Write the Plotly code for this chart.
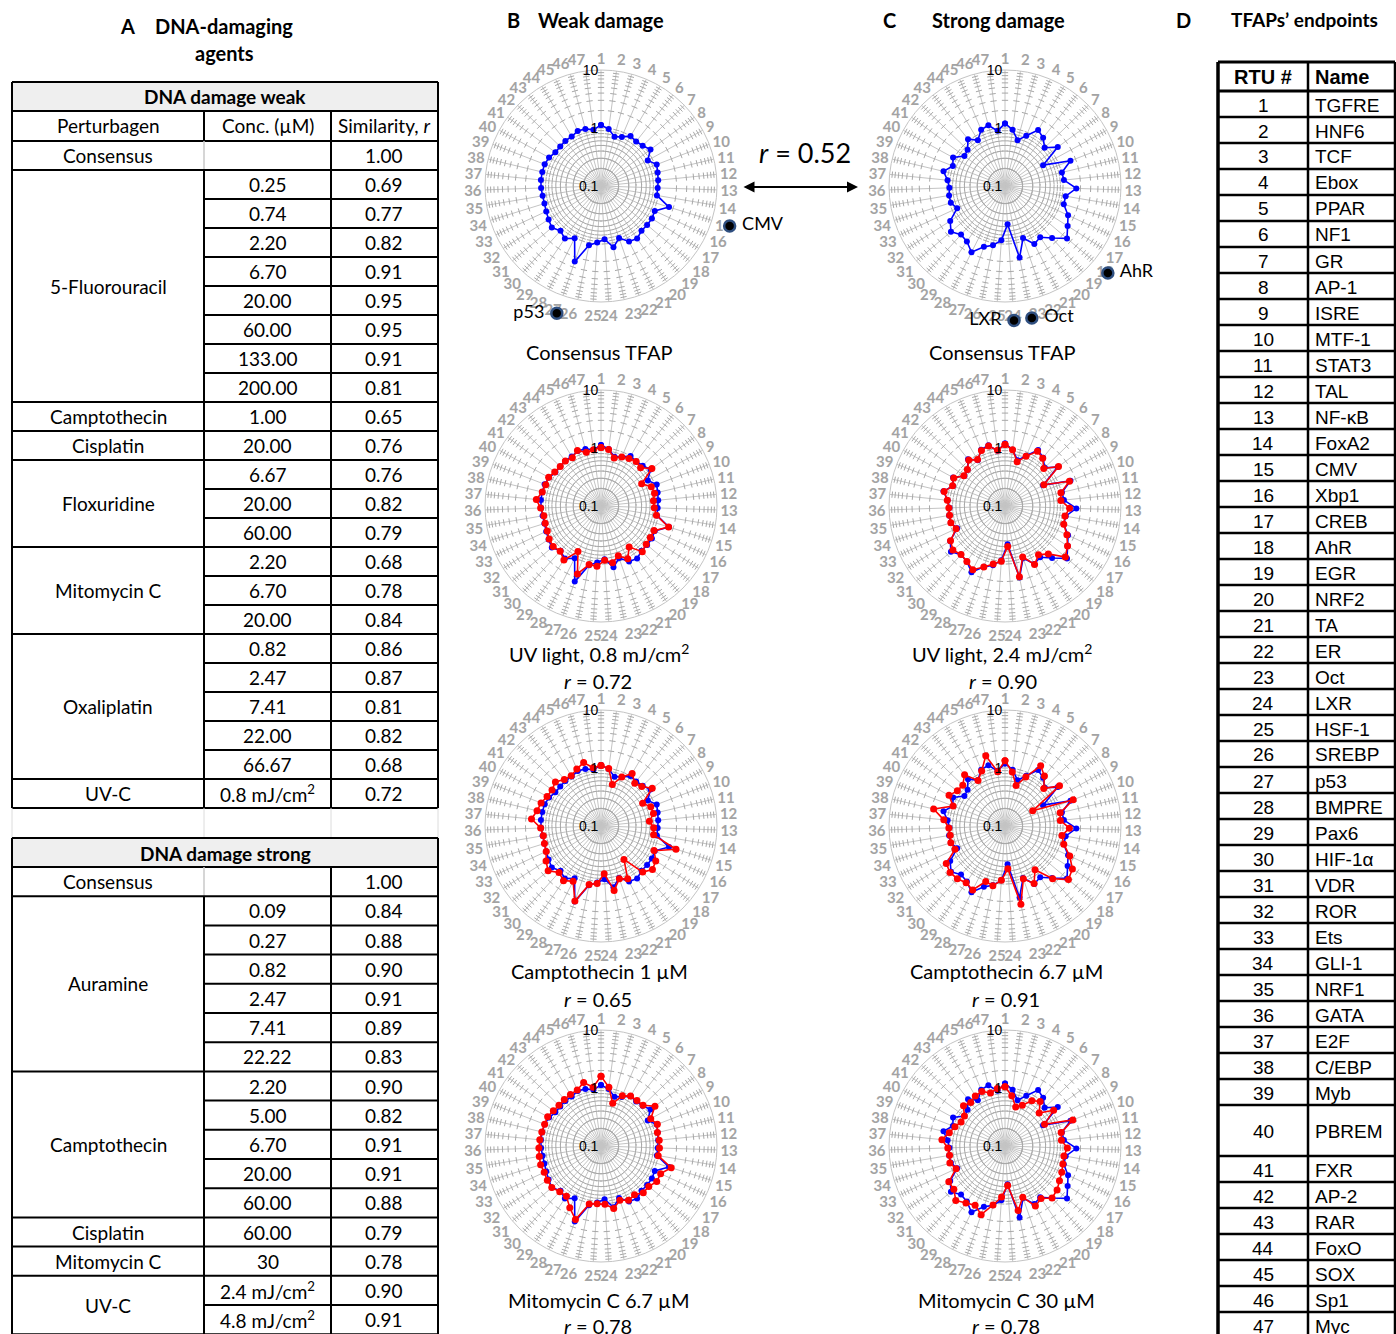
import plotly.graph_objects as go

W, H = 1396, 1334

# ---------------- data ----------------
categories = [str(i) for i in range(1, 48)]

weak_consensus = [1.13, 0.98, 0.76, 0.83, 1.00, 0.95, 1.00, 1.15, 0.83, 1.07, 1.01, 0.98, 0.95, 0.95, 1.69,
                  1.05, 1.10, 1.10, 1.10, 1.26, 1.18, 0.89, 1.20, 0.83, 0.95, 1.10, 2.40, 1.02, 1.26, 1.10,
                  1.29, 1.18, 1.10, 1.05, 1.05, 1.08, 1.10, 1.10, 1.10, 1.05, 0.95, 0.95, 0.98, 0.98, 1.07,
                  1.05, 0.95]
strong_consensus = [1.20, 0.95, 0.66, 0.87, 1.32, 1.15, 0.89, 1.35, 0.56, 1.62, 1.02, 1.05, 1.70, 1.15, 1.15,
                    1.58, 1.91, 2.51, 1.62, 1.18, 1.32, 0.89, 1.82, 0.46, 0.87, 1.10, 1.29, 1.91, 1.45, 1.35,
                    1.66, 1.32, 0.81, 0.95, 0.95, 0.91, 0.99, 1.23, 0.92, 1.05, 0.74, 0.79, 1.07, 0.83, 1.13,
                    1.22, 0.91]
uv_08 = [1.02, 0.96, 0.72, 0.83, 0.89, 0.95, 0.89, 1.23, 0.63, 0.85, 0.89, 0.81, 0.83, 0.93, 1.66,
         1.02, 1.02, 1.05, 1.15, 0.72, 1.05, 0.81, 1.00, 0.87, 1.10, 1.07, 1.74, 0.76, 1.35, 1.12,
         1.20, 1.15, 1.05, 1.02, 1.00, 1.10, 1.32, 1.10, 1.05, 1.07, 0.98, 0.95, 0.98, 0.93, 1.10,
         0.91, 0.95]
campto_1 = [1.10, 1.00, 0.55, 0.83, 1.13, 0.87, 0.95, 1.25, 0.66, 0.83, 0.85, 0.69, 0.81, 0.83, 2.26,
            1.02, 1.32, 1.45, 1.18, 0.50, 1.05, 0.92, 1.36, 0.67, 0.99, 1.07, 2.35, 1.17, 1.39, 1.20,
            1.56, 1.33, 1.10, 1.05, 1.02, 1.10, 1.60, 1.36, 1.28, 1.15, 1.12, 1.24, 1.05, 1.02, 1.17,
            1.36, 1.03]
mito_67 = [1.60, 1.05, 0.58, 0.87, 1.00, 1.00, 1.02, 1.43, 0.95, 1.10, 1.00, 1.02, 1.02, 1.00, 1.85,
           1.36, 1.38, 1.20, 1.22, 1.05, 1.12, 0.98, 1.26, 1.02, 1.00, 1.05, 2.20, 1.56, 1.13, 1.15,
           1.29, 1.25, 1.20, 1.23, 1.20, 1.18, 1.15, 1.12, 1.10, 1.12, 1.05, 1.02, 1.05, 1.08, 1.12,
           1.36, 1.05]
uv_24 = [1.15, 0.95, 0.62, 0.85, 1.25, 1.12, 0.85, 1.40, 0.58, 1.55, 0.98, 0.93, 1.30, 1.12, 1.15,
         1.50, 1.90, 2.30, 1.30, 1.05, 1.35, 0.85, 1.75, 0.50, 0.90, 1.05, 1.30, 1.70, 1.45, 1.35,
         1.50, 1.30, 0.85, 0.95, 0.93, 0.93, 1.00, 1.20, 0.93, 1.02, 0.76, 0.80, 1.02, 0.85, 1.10,
         1.18, 0.93]
campto_67 = [1.34, 0.87, 0.53, 0.83, 1.61, 1.25, 0.85, 1.47, 0.35, 1.82, 0.95, 0.91, 1.29, 0.99, 1.15,
             1.70, 2.39, 2.70, 1.68, 0.82, 1.29, 0.92, 2.38, 0.55, 0.87, 1.12, 1.03, 1.72, 1.53, 1.68,
             1.74, 1.59, 0.89, 0.95, 0.91, 0.93, 1.15, 1.84, 0.91, 1.26, 1.05, 1.03, 1.33, 0.82, 1.07,
             1.80, 0.88]
mito_30 = [1.05, 0.75, 0.50, 0.58, 0.81, 0.95, 0.66, 1.10, 0.60, 1.79, 0.99, 0.95, 1.19, 1.07, 1.11,
           1.20, 1.30, 1.50, 1.62, 1.25, 1.45, 0.86, 1.37, 0.48, 0.76, 1.09, 1.79, 1.39, 1.55, 1.84,
           1.43, 1.41, 0.85, 0.99, 0.93, 0.97, 1.24, 0.97, 0.84, 0.73, 0.74, 0.99, 0.90, 1.01, 1.05,
           0.89, 1.00]

weak_highlight_cats = ["15", "27"]
weak_highlight_names = ["CMV", "p53"]
strong_highlight_cats = ["18", "24", "23"]
strong_highlight_names = ["AhR", "LXR", "Oct"]

radial_ticks = [0.1, 1, 10]
radial_ticktext = ["0.1", "1", "10"]
minor_ticks = [0.2, 0.3, 0.4, 0.5, 0.6, 0.7, 0.8, 0.9, 1, 2, 3, 4, 5, 6, 7, 8, 9]

weak_title = "DNA damage weak"
weak_groups = [
    ("Consensus", [""], ["1.00"]),
    ("5-Fluorouracil", ["0.25", "0.74", "2.20", "6.70", "20.00", "60.00", "133.00", "200.00"],
     ["0.69", "0.77", "0.82", "0.91", "0.95", "0.95", "0.91", "0.81"]),
    ("Camptothecin", ["1.00"], ["0.65"]),
    ("Cisplatin", ["20.00"], ["0.76"]),
    ("Floxuridine", ["6.67", "20.00", "60.00"], ["0.76", "0.82", "0.79"]),
    ("Mitomycin C", ["2.20", "6.70", "20.00"], ["0.68", "0.78", "0.84"]),
    ("Oxaliplatin", ["0.82", "2.47", "7.41", "22.00", "66.67"], ["0.86", "0.87", "0.81", "0.82", "0.68"]),
    ("UV-C", ["0.8 mJ/cm<sup>2</sup>"], ["0.72"]),
]
strong_title = "DNA damage strong"
strong_groups = [
    ("Consensus", [""], ["1.00"]),
    ("Auramine", ["0.09", "0.27", "0.82", "2.47", "7.41", "22.22"], ["0.84", "0.88", "0.90", "0.91", "0.89", "0.83"]),
    ("Camptothecin", ["2.20", "5.00", "6.70", "20.00", "60.00"], ["0.90", "0.82", "0.91", "0.91", "0.88"]),
    ("Cisplatin", ["60.00"], ["0.79"]),
    ("Mitomycin C", ["30"], ["0.78"]),
    ("UV-C", ["2.4 mJ/cm<sup>2</sup>", "4.8 mJ/cm<sup>2</sup>"], ["0.90", "0.91"]),
]
table_header = ["Perturbagen", "Conc. (µM)", "Similarity, <i>r</i>"]

tfap_names = ["TGFRE", "HNF6", "TCF", "Ebox", "PPAR", "NF1", "GR", "AP-1", "ISRE", "MTF-1", "STAT3", "TAL",
              "NF-κB", "FoxA2", "CMV", "Xbp1", "CREB", "AhR", "EGR", "NRF2", "TA", "ER", "Oct", "LXR",
              "HSF-1", "SREBP", "p53", "BMPRE", "Pax6", "HIF-1α", "VDR", "ROR", "Ets", "GLI-1", "NRF1",
              "GATA", "E2F", "C/EBP", "Myb", "PBREM", "FXR", "AP-2", "RAR", "FoxO", "SOX", "Sp1", "Myc"]

# ---------------- helpers ----------------
CAL = "Lato"
ARI = "Liberation Sans"
BLUE = "#0000ff"
RED = "#ff0000"
HIGHLIGHT_R = 21
R_PX = 116
OVER_LOG_MAX = 1.4          # overlay polar radial range upper bound (log10)
R_OVER = R_PX * (OVER_LOG_MAX + 1) / 2
NBSP = "\u00a0"


def X(px):
    return px / W


def Y(py):
    return 1 - py / H


shapes = []
annots = []


def line(x0, y0, x1, y1, w=2, c="black"):
    shapes.append(dict(type="line", xref="paper", yref="paper", x0=X(x0), y0=Y(y0), x1=X(x1), y1=Y(y1),
                       line=dict(color=c, width=w)))


def rect(x0, y0, x1, y1, fill):
    shapes.append(dict(type="rect", xref="paper", yref="paper", x0=X(x0), y0=Y(y0), x1=X(x1), y1=Y(y1),
                       fillcolor=fill, line=dict(width=0), layer="below"))


def text(x, y, s, size=19, bold=False, family=CAL, xanchor="center", color="black"):
    if not s:
        return
    annots.append(dict(x=X(x), y=Y(y), xref="paper", yref="paper", text=s, showarrow=False,
                       xanchor=xanchor, yanchor="middle",
                       font=dict(family=family, size=size, color=color, weight="bold" if bold else "normal")))


# ---------------- table A ----------------
cols = [12, 204, 331, 438]
cmid = [(cols[0] + cols[1]) / 2, (cols[1] + cols[2]) / 2, (cols[2] + cols[3]) / 2]


def draw_table(top, title, groups, rh, header=None):
    rect(cols[0], top, cols[3], top + 29, "#efefef")
    text((cols[0] + cols[3]) / 2, top + 15, title, bold=True)
    line(cols[0], top, cols[3], top)
    y = top + 29
    line(cols[0], y, cols[3], y)
    start = top
    if header:
        for i, h in enumerate(header):
            text(cmid[i], y + 15, h)
        line(cols[1], y, cols[1], y + 30)
        line(cols[2], y, cols[2], y + 30)
        y += 30
        line(cols[0], y, cols[3], y)
    for name, concs, rs in groups:
        n = len(concs)
        g0, g1 = y, y + n * rh
        text(cmid[0], (g0 + g1) / 2, name)
        for i, (c, r) in enumerate(zip(concs, rs)):
            yc = g0 + (i + 0.5) * rh
            text(cmid[1], yc, c)
            text(cmid[2], yc, r)
            if i > 0:
                line(cols[1], g0 + i * rh, cols[3], g0 + i * rh)
        if name == "Consensus":
            line(cols[1], g0, cols[1], g1, w=1.5, c="#c8c8c8")
        else:
            line(cols[1], g0, cols[1], g1)
        line(cols[2], g0, cols[2], g1)
        line(cols[0], g1, cols[3], g1)
        y = g1
    line(cols[0], start, cols[0], y)
    line(cols[3], start, cols[3], y)
    return y


end_weak = draw_table(82, weak_title, weak_groups, 29, header=table_header)
for cx in cols:
    line(cx, end_weak, cx, 838, w=1, c="#dcdcdc")
draw_table(838, strong_title, strong_groups, 29.2)

# ---------------- table D ----------------
dx0, dx1, dx2 = 1218, 1308, 1395
top_d = 62
line(dx0, top_d, dx2, top_d, w=3)
text((dx0 + dx1) / 2, 77, "RTU #", size=20, bold=True, family=ARI)
text(dx1 + 5, 77, "Name", size=20, bold=True, family=ARI, xanchor="left")
y = 91
line(dx0, y, dx2, y, w=3)
for i, nm in enumerate(tfap_names):
    h = 51 if nm == "PBREM" else 26
    text((dx0 + dx1) / 2, y + h / 2 + 1, str(i + 1), size=19, family=ARI)
    text(dx1 + 5, y + h / 2 + 1, nm, size=19, family=ARI, xanchor="left")
    y += h
    line(dx0, y, dx2, y, w=2.5)
line(dx0, top_d, dx0, H, w=3.5)
line(dx1, top_d, dx1, H, w=2.5)
line(dx2, top_d, dx2, H, w=2.5)

# ---------------- titles ----------------
text(127, 26, "A", size=20, bold=True)
text(224, 26, "DNA-damaging", size=20, bold=True)
text(224, 53, "agents", size=20, bold=True)
text(513, 20, "B", size=20, bold=True)
text(601, 20, "Weak damage", size=20, bold=True)
text(890, 20, "C", size=20, bold=True)
text(999, 20, "Strong damage", size=20, bold=True)
text(1183, 20, "D", size=20, bold=True)
text(1304, 20, "TFAPs’ endpoints", size=19, bold=True)
text(805, 153, "<i>r</i> = 0.52", size=27)
annots.append(dict(x=X(858), y=Y(187), xref="paper", yref="paper", ax=-116, ay=0, text="",
                   showarrow=True, arrowhead=2, arrowside="end+start", arrowsize=1.1, arrowwidth=2,
                   arrowcolor="black"))

# ---------------- radar charts ----------------
charts = [
    dict(c=(601, 186), blue=weak_consensus, red=None, hl=(weak_highlight_cats, weak_highlight_names),
         sub=[(599, 352, "Consensus TFAP")]),
    dict(c=(1005, 186), blue=strong_consensus, red=None, hl=(strong_highlight_cats, strong_highlight_names),
         sub=[(1003, 352, "Consensus TFAP")]),
    dict(c=(601, 506), blue=weak_consensus, red=uv_08, hl=None,
         sub=[(599, 653, "UV light, 0.8 mJ/cm<sup>2</sup>"), (598, 681, "<i>r</i> = 0.72")]),
    dict(c=(1005, 506), blue=strong_consensus, red=uv_24, hl=None,
         sub=[(1002, 653, "UV light, 2.4 mJ/cm<sup>2</sup>"), (1003, 681, "<i>r</i> = 0.90")]),
    dict(c=(601, 826), blue=weak_consensus, red=campto_1, hl=None,
         sub=[(599, 971, "Camptothecin 1 µM"), (598, 999, "<i>r</i> = 0.65")]),
    dict(c=(1005, 826), blue=strong_consensus, red=campto_67, hl=None,
         sub=[(1006, 971, "Camptothecin 6.7 µM"), (1006, 999, "<i>r</i> = 0.91")]),
    dict(c=(601, 1146), blue=weak_consensus, red=mito_67, hl=None,
         sub=[(599, 1300, "Mitomycin C 6.7 µM"), (598, 1326, "<i>r</i> = 0.78")]),
    dict(c=(1005, 1146), blue=strong_consensus, red=mito_30, hl=None,
         sub=[(1006, 1300, "Mitomycin C 30 µM"), (1006, 1326, "<i>r</i> = 0.78")]),
]

fig = go.Figure()
layout_polars = {}
step = 360 / len(categories)
tick_theta, tick_r, tick_ang = [], [], []
for k, cat in enumerate(categories):
    for v in minor_ticks:
        tick_theta.append(cat)
        tick_r.append(v)
        tick_ang.append(k * step)

closed_theta = categories + [categories[0]]
n_polar = 0


def new_polar():
    global n_polar
    n_polar += 1
    return "polar" if n_polar == 1 else f"polar{n_polar}"


overlays = []
for idx, ch in enumerate(charts):
    pname = new_polar()
    cx, cy = ch["c"]
    layout_polars[pname] = dict(
        domain=dict(x=[X(cx - R_PX), X(cx + R_PX)], y=[Y(cy + R_PX), Y(cy - R_PX)]),
        bgcolor="rgba(0,0,0,0)",
        angularaxis=dict(type="category", categoryorder="array", categoryarray=categories,
                         rotation=90, direction="clockwise", showgrid=True, gridcolor="#c4c4c4",
                         gridwidth=1, showline=True, linecolor="#c4c4c4", linewidth=1, ticks="",
                         tickfont=dict(family=CAL, size=15, color="#a3a3a3", weight="bold"),
                         layer="below traces"),
        radialaxis=dict(type="log", range=[-1, 1], angle=90, tickangle=90, tickvals=radial_ticks,
                        ticktext=radial_ticktext, showgrid=False, showline=False, ticks="",
                        side="counterclockwise",
                        tickfont=dict(family=ARI, size=14, color="black"), layer="above traces"),
    )
    fig.add_trace(go.Scatterpolar(r=tick_r, theta=tick_theta, mode="markers", subplot=pname,
                                  marker=dict(symbol="line-ew", size=4.5, angle=tick_ang,
                                              line=dict(color="#a8a8a8", width=1)),
                                  hoverinfo="skip", showlegend=False))
    b = ch["blue"]
    fig.add_trace(go.Scatterpolar(r=b + [b[0]], theta=closed_theta, mode="lines+markers", subplot=pname,
                                  line=dict(color=BLUE, width=1.6), marker=dict(color=BLUE, size=6),
                                  showlegend=False))
    if ch["red"] is not None:
        rr = ch["red"]
        fig.add_trace(go.Scatterpolar(r=rr + [rr[0]], theta=closed_theta, mode="lines+markers",
                                      subplot=pname, line=dict(color=RED, width=1.6),
                                      marker=dict(color=RED, size=7), showlegend=False))
    for (sx, sy, st) in ch["sub"]:
        text(sx, sy, st, size=20)
    if ch["hl"] is not None:
        overlays.append(ch)

# overlay polar subplots (same centre, wider radial range) for the highlighted RTUs outside the rim
for ch in overlays:
    pname = new_polar()
    cx, cy = ch["c"]
    layout_polars[pname] = dict(
        domain=dict(x=[X(cx - R_OVER), X(cx + R_OVER)], y=[Y(cy + R_OVER), Y(cy - R_OVER)]),
        bgcolor="rgba(0,0,0,0)",
        angularaxis=dict(type="category", categoryorder="array", categoryarray=categories,
                         rotation=90, direction="clockwise", showgrid=False, showline=False,
                         ticks="", showticklabels=False),
        radialaxis=dict(type="log", range=[-1, OVER_LOG_MAX], showgrid=False, showline=False,
                        ticks="", showticklabels=False),
    )
    cats, names = ch["hl"]
    pos, labels = [], []
    for c, nm in zip(cats, names):
        ang = categories.index(c) * step
        right = ang < 180 or c == "23"
        right = right and c != "24"
        pos.append("middle right" if right else "middle left")
        labels.append(NBSP + nm if right else nm + NBSP)
    fig.add_trace(go.Scatterpolar(r=[HIGHLIGHT_R] * len(cats), theta=cats, mode="markers+text",
                                  subplot=pname, text=labels, textposition=pos, cliponaxis=False,
                                  textfont=dict(family=CAL, size=18, color="black"),
                                  marker=dict(color="black", size=11,
                                              line=dict(color="#2f4f80", width=2.5)),
                                  showlegend=False))

fig.update_layout(width=W, height=H, margin=dict(l=0, r=0, t=0, b=0), paper_bgcolor="white",
                  plot_bgcolor="white", shapes=shapes, annotations=annots, showlegend=False,
                  **layout_polars)
fig.write_html("out.html")
